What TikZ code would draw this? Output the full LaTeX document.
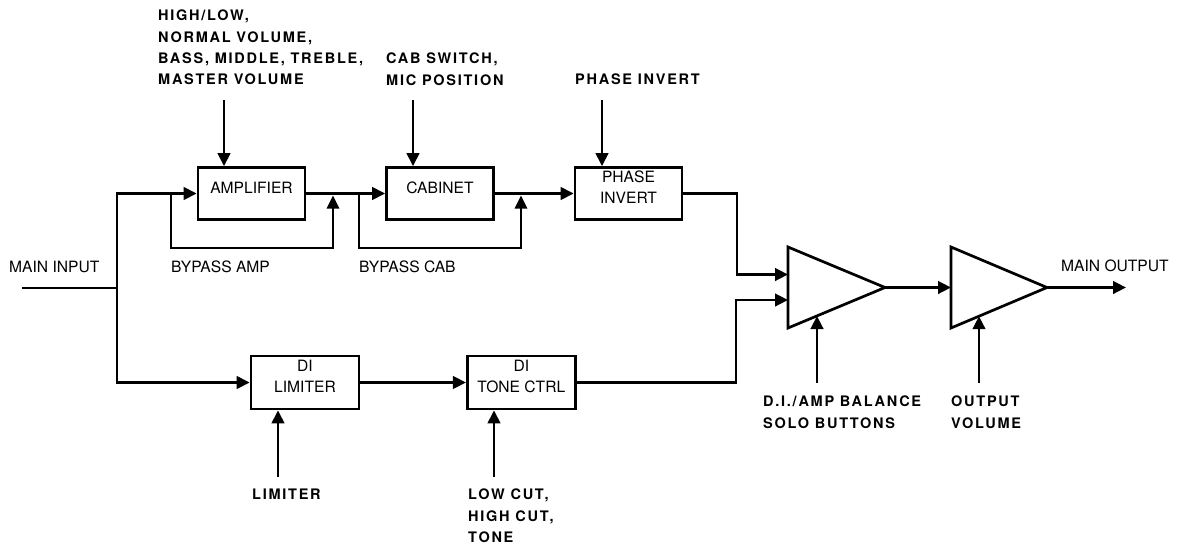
\documentclass[tikz,border=0pt]{standalone}
\usepackage{fontspec}
\setmainfont{TeX Gyre Heros}
\newfontfamily\lblfont[LetterSpace=12]{TeX Gyre Heros}
\usetikzlibrary{arrows.meta}
\begin{document}
\begin{tikzpicture}[x=1pt,y=-1pt,
  blk/.style={draw, line width=2.7pt, minimum width=107pt, minimum height=52pt, inner sep=0pt},
  boxtxt/.style={font=\fontsize{15.6}{21.3}\selectfont, align=center, inner sep=0pt},
  plain/.style={font=\fontsize{15.6}{21.3}\selectfont, inner sep=0pt, anchor=north west},
  ctl/.style={font=\lblfont\bfseries\fontsize{14.5}{21.3}\selectfont, align=left, inner sep=0pt, anchor=north west},
  sig/.style={line width=2.7pt},
  byp/.style={line width=1.3pt},
  tip/.style={-{Triangle[length=13pt,width=12.5pt]}},
]
\useasboundingbox (0,0) rectangle (1183,546);

% blocks
\node[blk] (amp) at (251.5,193.5) {};
\node[blk] (cab) at (440,193.5) {};
\node[blk] (phase) at (628.5,193.5) {};
\node[blk, minimum width=108pt, minimum height=53pt] (lim) at (305,382.5) {};
\node[blk, minimum width=108pt, minimum height=53pt] (tone) at (521.3,382.5) {};

\node[boxtxt] (tamp) at ([yshift=6pt]amp.center) {AMPLIFIER};
\node[boxtxt] (tcab) at ([yshift=6pt]cab.center) {CABINET};
\node[boxtxt] (tph) at ([yshift=6pt]phase.center) {PHASE\\INVERT};
\node[boxtxt] (tlim) at ([yshift=6pt]lim.center) {DI\\LIMITER};
\node[boxtxt] (ttone) at ([yshift=6pt]tone.center) {DI\\TONE CTRL};

% mixer triangles
\draw[sig] (788,247) -- (885,287.5) -- (788,328) -- cycle;
\draw[sig] (951,247) -- (1047,287.5) -- (951,328) -- cycle;
\coordinate (t1a) at (788,274.5);
\coordinate (t1b) at (788,300);
\coordinate (t1o) at (885,287.5);
\coordinate (t1c) at (817,316);
\coordinate (t2i) at (951,287.5);
\coordinate (t2o) at (1047,287.5);
\coordinate (t2c) at (979,316.2);

% input
\coordinate (inL) at (22,288);
\coordinate (jn) at (117,288);
\draw[sig] (inL) -- (jn);
\draw[sig,tip] (jn) |- (amp.west);
\draw[sig,tip] (jn) |- (lim.west);

% upper chain
\draw[sig,tip] (amp.east) -- (cab.west);
\draw[sig,tip] (cab.east) -- (phase.west);
\coordinate (bpaS) at (171,193.5);
\coordinate (bpaE) at (333,195.5);
\draw[byp,tip] (bpaS) -- (171,248) -| (bpaE);
\coordinate (bpcS) at (359,193.5);
\coordinate (bpcE) at (521,195.5);
\draw[byp,tip] (bpcS) -- (359,248) -| (bpcE);

\coordinate (tj) at (737,193.5);
\draw[sig,tip] (phase.east) -- (tj) |- (t1a);

% lower chain
\draw[sig,tip] (lim.east) -- (tone.west);
\coordinate (bj) at (736,382.5);
\draw[sig,tip] (tone.east) -- (bj) |- (t1b);

% output
\draw[sig,tip] (t1o) -- (t2i);
\coordinate (outR) at (1126,287.5);
\draw[sig,tip] (t2o) -- (outR);

% control arrows
\coordinate (ca) at (224,100);
\coordinate (cc) at (413,100);
\coordinate (cp) at (602,100);
\draw[sig,tip] (ca) -- (ca |- amp.north);
\draw[sig,tip] (cc) -- (cc |- cab.north);
\draw[sig,tip] (cp) -- (cp |- phase.north);
\coordinate (cl) at (278,477);
\coordinate (ct) at (494,477);
\draw[sig,tip] (cl) -- (cl |- lim.south);
\draw[sig,tip] (ct) -- (ct |- tone.south);
\coordinate (c1) at (817,383);
\coordinate (c2) at (979,383);
\draw[sig,tip] (c1) -- (t1c);
\draw[sig,tip] (c2) -- (t2c);

% labels
\node[ctl] (lamp) at (158,10) {HIGH/LOW,\\NORMAL VOLUME,\\BASS, MIDDLE, TREBLE,\\MASTER VOLUME};
\node[ctl] (lcab) at (386,53) {CAB SWITCH,\\MIC POSITION};
\node[ctl] (lph) at (575,74) {PHASE INVERT};
\node[plain] (lin) at (9,261) {MAIN INPUT};
\node[plain] (lbpa) at (171,261) {BYPASS AMP};
\node[plain] (lbpc) at (359,261) {BYPASS CAB};
\node[plain] (lout) at (1061,260) {MAIN OUTPUT};
\node[ctl] (lbal) at (763,396) {D.I./AMP BALANCE\\SOLO BUTTONS};
\node[ctl] (lvol) at (951,396) {OUTPUT\\VOLUME};
\node[ctl] (llim) at (252,489) {LIMITER};
\node[ctl] (ltone) at (468,489) {LOW CUT,\\HIGH CUT,\\TONE};
\end{tikzpicture}
\end{document}
